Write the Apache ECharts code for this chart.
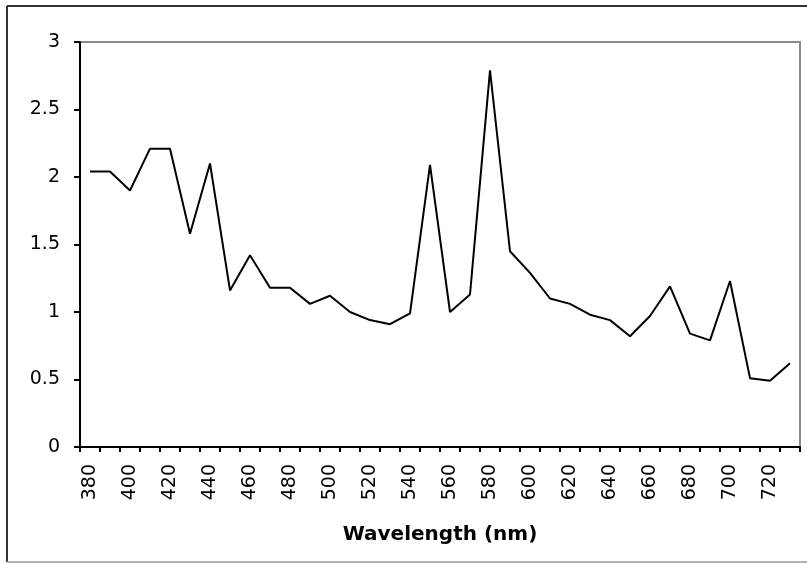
<!DOCTYPE html>
<html>
<head>
<meta charset="utf-8">
<script src="https://cdn.jsdelivr.net/npm/echarts@6/dist/echarts.min.js"></script>
<style>html,body{margin:0;padding:0;background:#fff;}#c{width:807px;height:563px;}</style>
</head>
<body>
<div id="c"></div>
<script>
var wavelengths = [380,390,400,410,420,430,440,450,460,470,480,490,500,510,520,530,540,550,560,570,580,590,600,610,620,630,640,650,660,670,680,690,700,710,720,730];
var values = [2.04,2.04,1.90,2.21,2.21,1.58,2.10,1.16,1.42,1.18,1.18,1.06,1.12,1.00,0.94,0.91,0.99,2.09,1.00,1.13,2.79,1.45,1.29,1.10,1.06,0.98,0.94,0.82,0.97,1.19,0.84,0.79,1.23,0.51,0.49,0.62];
var yTicks = [0,0.5,1,1.5,2,2.5,3];
var xTitle = 'Wavelength (nm)';

var chart = echarts.init(document.getElementById('c'), null, {renderer:'canvas'});
var font = 'DejaVu Sans';
chart.setOption({
  backgroundColor:'#fff',
  animation:false,
  grid:{left:80, right:7, top:42, bottom:116, show:true, borderColor:'#8a8a8a', borderWidth:2, backgroundColor:'transparent'},
  xAxis:{
    type:'category',
    data:wavelengths.map(String),
    boundaryGap:true,
    axisLine:{lineStyle:{color:'#000', width:2}},
    axisTick:{show:true, interval:0, length:5, lineStyle:{color:'#000', width:2}},
    axisLabel:{interval:1, rotate:90, margin:17, color:'#000', fontFamily:font, fontSize:19},
    splitLine:{show:false},
    name:xTitle,
    nameLocation:'middle',
    nameGap:78,
    nameTextStyle:{color:'#000', fontFamily:font, fontWeight:'bold', fontSize:20}
  },
  yAxis:{
    type:'value',
    min:yTicks[0], max:yTicks[yTicks.length-1], interval:0.5,
    axisLine:{show:true, lineStyle:{color:'#000', width:2}},
    axisTick:{show:true, length:6, lineStyle:{color:'#000', width:2}},
    axisLabel:{margin:20, color:'#000', fontFamily:font, fontSize:19},
    splitLine:{show:false}
  },
  series:[{
    type:'line',
    data:values,
    showSymbol:false,
    lineStyle:{color:'#000', width:2},
    itemStyle:{color:'#000'}
  }],
  graphic:[
    {type:'line', shape:{x1:7,y1:6,x2:807,y2:6}, style:{stroke:'#333', lineWidth:2}},
    {type:'line', shape:{x1:7,y1:6,x2:7,y2:562}, style:{stroke:'#333', lineWidth:2}},
    {type:'line', shape:{x1:7,y1:562,x2:807,y2:562}, style:{stroke:'#999', lineWidth:1.5}}
  ]
});
</script>
</body>
</html>
